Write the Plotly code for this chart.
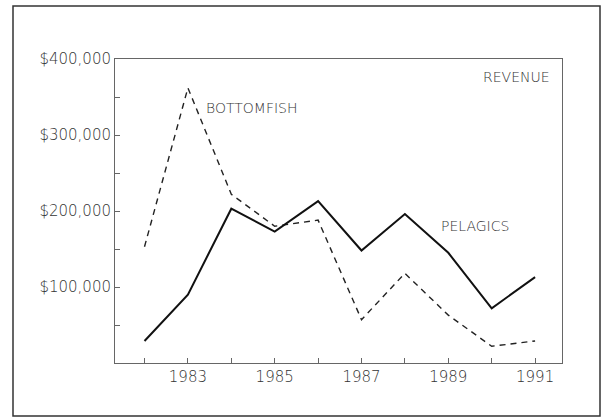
import plotly.graph_objects as go

years = [1982, 1983, 1984, 1985, 1986, 1987, 1988, 1989, 1990, 1991]
bottomfish = [153000, 362000, 222000, 180000, 188000, 57000, 118000, 63000, 22000, 29000]
pelagics = [29000, 90000, 203000, 173000, 213000, 148000, 196000, 145000, 72000, 113000]
x_tick_labels = ["1983", "1985", "1987", "1989", "1991"]
x_tick_vals = [1983, 1985, 1987, 1989, 1991]
y_tick_vals = [100000, 200000, 300000, 400000]
y_tick_labels = ["$100,000", "$200,000", "$300,000", "$400,000"]
y_minor_vals = [50000, 150000, 250000, 350000]

W, H = 603, 418
L, R, T, B = 115, 41, 59, 55
pw, ph = W - L - R, H - T - B

def px_x(p):
    return (p - L) / pw

def px_y(p):
    return (H - B - p) / ph

fig = go.Figure()
fig.add_trace(go.Scatter(x=years, y=bottomfish, mode="lines", name="BOTTOMFISH",
                         line=dict(color="#222", width=1.4, dash="6px,5px")))
fig.add_trace(go.Scatter(x=years, y=pelagics, mode="lines", name="PELAGICS",
                         line=dict(color="#111", width=2)))

axis_color = "#666"
txt_font = dict(family="DejaVu Sans", size=15, color="#333", weight=200)
fig.update_layout(
    width=W, height=H,
    margin=dict(l=L, r=R, t=T, b=B),
    paper_bgcolor="white", plot_bgcolor="white",
    showlegend=False,
    font=txt_font,
    xaxis=dict(range=[1981.32, 1991.62], tickvals=x_tick_vals, ticktext=x_tick_labels,
               ticks="inside", ticklen=5, tickcolor=axis_color, showgrid=False, zeroline=False,
               showline=True, linecolor=axis_color, linewidth=1, mirror=True,
               minor=dict(tickvals=years, ticks="inside", ticklen=5, tickcolor=axis_color),
               tickfont=txt_font),
    yaxis=dict(range=[0, 400000], tickvals=y_tick_vals, ticktext=y_tick_labels,
               ticks="inside", ticklen=5, tickcolor=axis_color, showgrid=False, zeroline=False,
               showline=True, linecolor=axis_color, linewidth=1, mirror=True,
               minor=dict(tickvals=y_minor_vals, ticks="inside", ticklen=5, tickcolor=axis_color),
               tickfont=txt_font),
)

ann_font = dict(family="DejaVu Sans", size=14, color="#333", weight=200)
fig.add_annotation(x=1990.57, y=376500, text="REVENUE", showarrow=False, font=ann_font)
fig.add_annotation(x=1984.47, y=335500, text="BOTTOMFISH", showarrow=False, font=ann_font)
fig.add_annotation(x=1989.61, y=179700, text="PELAGICS", showarrow=False, font=ann_font)

fig.add_shape(type="rect", xref="paper", yref="paper",
              x0=px_x(13), x1=px_x(600), y0=px_y(416), y1=px_y(6),
              line=dict(color="#333", width=1.5))

fig.write_html("out.html", config={"displayModeBar": False},
               post_script="document.body.style.margin='0px';document.body.style.overflow='hidden';")
